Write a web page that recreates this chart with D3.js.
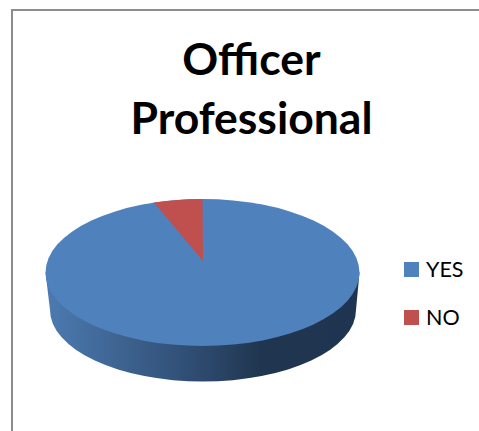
<!DOCTYPE html>
<html>
<head>
<meta charset="utf-8">
<script src="https://cdn.jsdelivr.net/npm/d3@7"></script>
<style>
html, body { margin: 0; padding: 0; background: #fff; overflow: hidden; }
svg { display: block; }
text { font-family: Lato, "Open Sans", sans-serif; fill: #000; }
</style>
</head>
<body>
<script>
// Chart content
const titleLines = ["Officer", "Professional"];
const categories = ["YES", "NO"];
const seriesValues = [95, 5];
const seriesColors = ["#4f81bd", "#c0504d"];

const width = 479, height = 431;
const svg = d3.select("body").append("svg").attr("width", width).attr("height", height);

// Frame: only the top and left edges fall inside the visible area
svg.append("path")
  .attr("d", d3.line()([[width, 10], [12, 10], [12, height]]))
  .attr("fill", "none").attr("stroke", "#8c8c8c").attr("stroke-width", 2);

// Title
svg.append("g").selectAll("text").data(titleLines).join("text")
  .attr("x", 251.5)
  .attr("y", (d, i) => 75 + i * 58.5)
  .attr("text-anchor", "middle")
  .attr("font-size", 44.5)
  .attr("font-weight", 700)
  .text(d => d);

// Tilted disc geometry: the rim sits lower and slightly narrower, and the
// wedge apex is pushed back from the ellipse centre by the perspective
const face = { cx: 202.5, cy: 272.5, rx: 157, ry: 73.5 };
const rim = { cx: 203, cy: 310, rx: 153, ry: 71.5 };
const apex = { x: 203, y: 261 };

const pie = d3.pie().value(d => d).sort(null);
const slices = pie(seriesValues);
const onFace = a => [face.cx + face.rx * Math.sin(a), face.cy - face.ry * Math.cos(a)];

// Side wall gradient, lit from the left
const defs = svg.append("defs");
const wall = defs.append("linearGradient").attr("id", "wall")
  .attr("gradientUnits", "userSpaceOnUse")
  .attr("x1", 46).attr("x2", 359).attr("y1", 0).attr("y2", 0);
[[0, "#4c7bb1"], [0.25, "#3d628f"], [0.5, "#2d4a6e"], [0.68, "#203650"], [1, "#1e3450"]]
  .forEach(([o, c]) => wall.append("stop").attr("offset", o).attr("stop-color", c));

const wallPath = d3.path();
wallPath.moveTo(face.cx - face.rx, face.cy);
wallPath.lineTo(rim.cx - rim.rx, rim.cy);
svg.append("path")
  .attr("d", wallPath.toString()
    + `A${rim.rx},${rim.ry} 0 0 0 ${rim.cx + rim.rx},${rim.cy}`
    + `L${face.cx + face.rx},${face.cy}Z`)
  .attr("fill", "url(#wall)");

// Top face, full disc in the largest slice's colour
svg.append("ellipse")
  .attr("cx", face.cx).attr("cy", face.cy)
  .attr("rx", face.rx).attr("ry", face.ry)
  .attr("fill", seriesColors[0]);

// Smaller slice laid over the disc, running back to the apex
svg.append("g").selectAll("path").data(slices.slice(1)).join("path")
  .attr("d", d => {
    const [x0, y0] = onFace(d.startAngle);
    const [x1, y1] = onFace(d.endAngle);
    return `M${apex.x},${apex.y}L${x0},${y0}A${face.rx},${face.ry} 0 0 1 ${x1},${y1}Z`;
  })
  .attr("fill", (d, i) => seriesColors[i + 1]);

// Legend
const legendY = d3.scalePoint().domain(categories).range([269.5, 317.5]);
const legend = svg.append("g").selectAll("g").data(categories).join("g")
  .attr("transform", d => `translate(404,${legendY(d)})`);
legend.append("rect")
  .attr("y", -7.5).attr("width", 15).attr("height", 15)
  .attr("fill", (d, i) => seriesColors[i]);
legend.append("text")
  .attr("x", 22).attr("y", 7.5)
  .attr("font-size", 21.5)
  .text(d => d);
</script>
</body>
</html>
